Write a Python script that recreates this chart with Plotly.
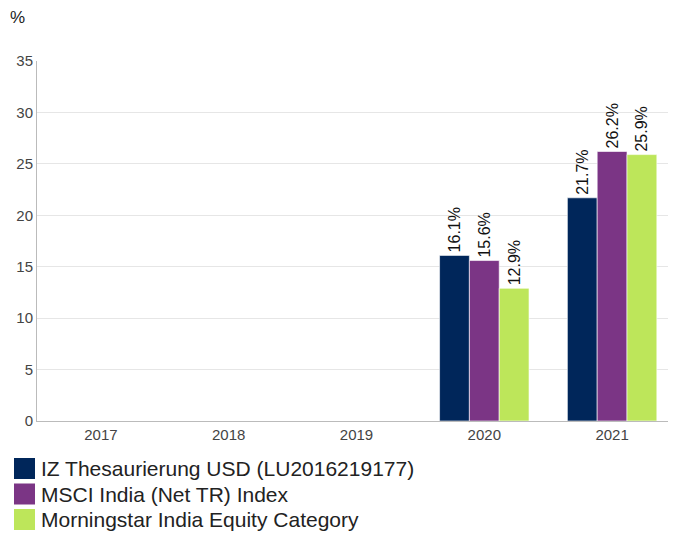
import plotly.graph_objects as go

years = ["2017", "2018", "2019", "2020", "2021"]
series_names = [
    "IZ Thesaurierung USD (LU2016219177)",
    "MSCI India (Net TR) Index",
    "Morningstar India Equity Category",
]
fund_values = [None, None, None, 16.1, 21.7]
index_values = [None, None, None, 15.6, 26.2]
category_values = [None, None, None, 12.9, 25.9]
colors = ["#00265a", "#7b3585", "#bde65a"]

all_values = [fund_values, index_values, category_values]

# page body has an 8px offset; work in figure coords = reference coords - 8
OFF = 8
W, H = 676 - OFF, 533 - OFF
L, T, R, B = 37 - OFF, 61 - OFF, 0, H - (421 - OFF)
PW, PH = W - L - R, H - T - B


def px(xr):
    return (xr - OFF - L) / PW


def py(yr):
    return (H - B - (yr - OFF)) / PH


fig = go.Figure()
for name, vals, col in zip(series_names, all_values, colors):
    fig.add_trace(go.Bar(
        x=years, y=vals, name=name,
        marker=dict(color=col, line=dict(color="rgba(255,255,255,0.6)", width=1)),
        text=[f"{v:.1f}%" if v is not None else "" for v in vals],
        textposition="outside", textangle=-90, cliponaxis=False,
        constraintext="none",
        textfont=dict(family="Liberation Sans, Arial", size=16, color="#111"),
        showlegend=False,
    ))

# custom legend with large square keys
for i, (name, col) in enumerate(zip(series_names, colors)):
    y_top = 458 + i * 25.5
    fig.add_shape(type="rect", xref="paper", yref="paper",
                  x0=px(14), x1=px(35), y0=py(y_top), y1=py(y_top + 21),
                  fillcolor=col, line=dict(width=0))
    fig.add_annotation(xref="paper", yref="paper", x=px(39),
                       y=py(y_top + 10.5), text=name, showarrow=False,
                       xanchor="left", yanchor="middle",
                       font=dict(family="Liberation Sans, Arial", size=21, color="#222"))

fig.add_annotation(xref="paper", yref="paper", x=px(8), y=py(18),
                   text="%", showarrow=False, xanchor="left", yanchor="middle",
                   font=dict(family="Liberation Sans, Arial", size=17, color="#222"))

fig.update_layout(
    width=W, height=H,
    margin=dict(l=L, r=R, t=T, b=B, pad=0),
    paper_bgcolor="white", plot_bgcolor="white",
    barmode="group", bargap=0.3, bargroupgap=0,
    font=dict(family="Liberation Sans, Arial", size=15, color="#444"),
    xaxis=dict(showline=True, linecolor="#bbb", linewidth=1, ticks="",
               tickfont=dict(size=15, color="#444")),
    yaxis=dict(range=[0, 35], dtick=5, showgrid=True, gridcolor="#e6e6e6",
               showline=True, linecolor="#bbb", linewidth=1, zeroline=False,
               tickfont=dict(size=15, color="#444"), ticks=""),
)

fig.write_html("out.html")
